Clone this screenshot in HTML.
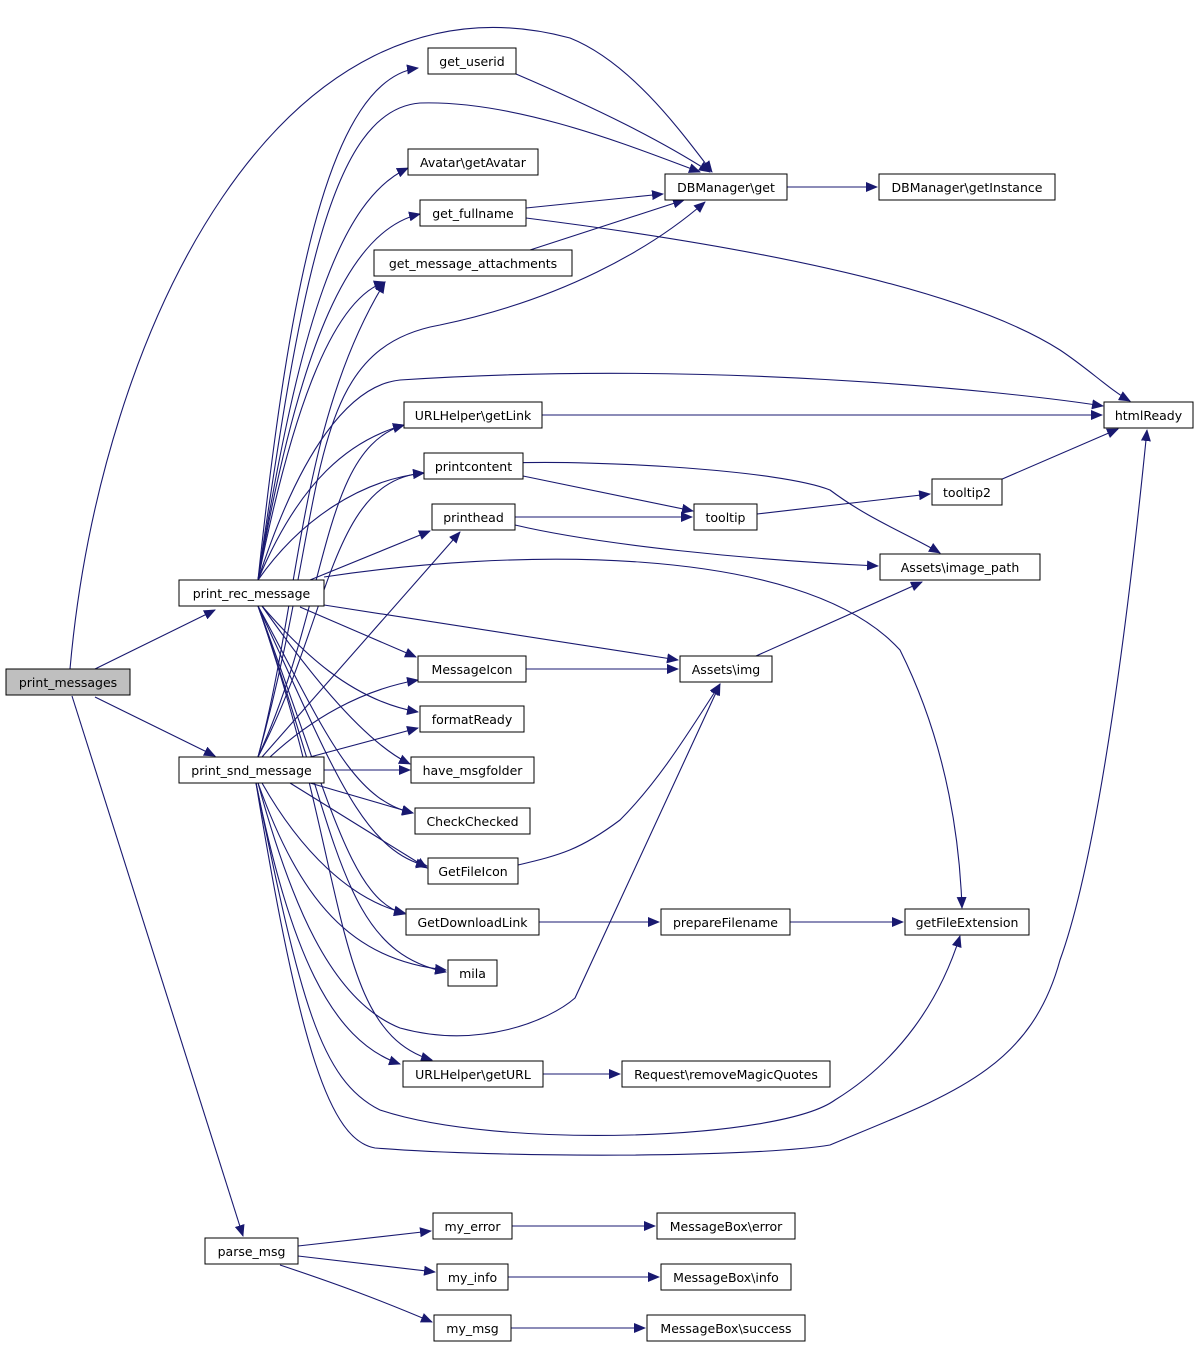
<!DOCTYPE html>
<html><head><meta charset="utf-8"><style>
body{margin:0;background:#fff}
svg text{font-family:"DejaVu Sans","Liberation Sans",sans-serif;font-size:12.5px;fill:#000;text-anchor:middle}
.n{fill:#fff;stroke:#000;stroke-width:1}
.e{fill:none;stroke:#191970;stroke-width:1.1}
</style></head><body>
<svg width="1200" height="1347" viewBox="0 0 1200 1347" xmlns="http://www.w3.org/2000/svg">
<defs><marker id="a" markerWidth="12" markerHeight="10" refX="11" refY="5" orient="auto" markerUnits="userSpaceOnUse"><path d="M0,0 L12,5 L0,10 z" fill="#191970"/></marker></defs>
<g class="e" marker-end="url(#a)">
<!-- print_messages -->
<path d="M95,669 L215,610"/>
<path d="M95,697 L215,756"/>
<path d="M72,696 L243,1236"/>
<path d="M70,669 C100,330 280,-40 570,38 C630,62 680,130 712,172"/>
<!-- print_rec_message -->
<path d="M258,580 C290,280 330,80 418,68"/>
<path d="M258,580 C300,290 330,110 420,103 C520,100 640,150 700,172"/>
<path d="M258,580 C300,320 340,200 408,168"/>
<path d="M258,580 C300,340 350,230 420,214"/>
<path d="M258,580 C290,420 330,300 385,282"/>
<path d="M258,580 C300,450 350,385 400,380 C700,360 1000,390 1103,406"/>
<path d="M258,580 C300,480 350,440 404,425"/>
<path d="M258,580 C300,520 360,480 424,473"/>
<path d="M310,580 L430,531"/>
<path d="M324,577 C500,550 800,540 900,650 C950,750 960,850 962,908"/>
<path d="M324,605 L678,660"/>
<path d="M300,607 L416,657"/>
<path d="M262,606 C300,650 350,700 418,712"/>
<path d="M262,606 C300,660 360,740 410,764"/>
<path d="M258,606 C320,720 350,800 413,813"/>
<path d="M258,606 C330,760 360,850 427,866"/>
<path d="M258,606 C330,800 350,900 405,914"/>
<path d="M258,606 C340,840 340,950 446,972"/>
<path d="M258,606 C350,870 330,1030 432,1060"/>
<!-- print_snd_message -->
<path d="M258,757 C300,600 300,420 385,282"/>
<path d="M258,757 C330,500 300,350 440,325 C560,300 650,250 705,202"/>
<path d="M258,757 C330,600 320,450 404,425"/>
<path d="M258,757 C330,620 330,480 424,473"/>
<path d="M262,757 L460,532"/>
<path d="M270,757 C310,720 360,690 418,680"/>
<path d="M310,757 L418,728"/>
<path d="M324,770 L410,770"/>
<path d="M310,783 L413,813"/>
<path d="M290,783 L427,868"/>
<path d="M262,783 C300,850 350,900 405,913"/>
<path d="M258,783 C300,900 350,960 446,970"/>
<path d="M258,783 C290,900 330,1000 400,1028 C480,1050 550,1020 575,998 L720,684"/>
<path d="M256,783 C290,950 330,1040 400,1064"/>
<path d="M256,783 C300,1000 320,1080 380,1110 C500,1150 780,1140 835,1100 C900,1060 940,1000 960,936"/>
<path d="M256,783 C300,1050 330,1140 375,1148 C500,1158 750,1158 830,1145 C950,1095 1030,1070 1060,960 C1100,850 1130,600 1147,430"/>
<!-- second tier -->
<path d="M516,74 C600,110 660,140 710,172"/>
<path d="M526,208 L663,194"/>
<path d="M530,250 L684,200"/>
<path d="M526,218 C700,240 950,280 1060,350 C1090,370 1110,390 1130,401"/>
<path d="M787,187 L877,187"/>
<path d="M542,415 L1102,415"/>
<path d="M523,476 L693,511"/>
<path d="M510,463 C600,460 780,470 830,490 C870,520 910,535 940,553"/>
<path d="M515,517 L692,517"/>
<path d="M515,525 C600,545 750,560 878,566"/>
<path d="M757,514 L930,494"/>
<path d="M1000,480 L1118,429"/>
<path d="M526,669 L678,669"/>
<path d="M756,656 L922,582"/>
<path d="M518,865 C560,855 580,850 620,820 C660,780 690,730 720,684"/>
<path d="M539,922 L659,922"/>
<path d="M790,922 L903,922"/>
<path d="M543,1074 L620,1074"/>
<path d="M298,1246 L431,1231"/>
<path d="M298,1256 L435,1272"/>
<path d="M280,1265 C340,1285 380,1300 432,1322"/>
<path d="M512,1226 L655,1226"/>
<path d="M508,1277 L659,1277"/>
<path d="M511,1328 L645,1328"/>
</g>
<g>
<rect x="6" y="669" width="124" height="26" fill="#bfbfbf" stroke="#000"/><text x="68" y="687">print_messages</text>
<rect class="n" x="179" y="580" width="145" height="26"/><text x="251.5" y="598">print_rec_message</text>
<rect class="n" x="179" y="757" width="145" height="26"/><text x="251.5" y="775">print_snd_message</text>
<rect class="n" x="205" y="1238" width="93" height="26"/><text x="251.5" y="1256">parse_msg</text>
<rect class="n" x="428" y="48" width="88" height="26"/><text x="472" y="66">get_userid</text>
<rect class="n" x="408" y="149" width="130" height="26"/><text x="473" y="167">Avatar\getAvatar</text>
<rect class="n" x="420" y="200" width="106" height="26"/><text x="473" y="218">get_fullname</text>
<rect class="n" x="374" y="250" width="198" height="26"/><text x="473" y="268">get_message_attachments</text>
<rect class="n" x="404" y="402" width="138" height="26"/><text x="473" y="420">URLHelper\getLink</text>
<rect class="n" x="424" y="453" width="99" height="26"/><text x="473.5" y="471">printcontent</text>
<rect class="n" x="432" y="504" width="83" height="26"/><text x="473.5" y="522">printhead</text>
<rect class="n" x="418" y="656" width="108" height="26"/><text x="472" y="674">MessageIcon</text>
<rect class="n" x="420" y="706" width="104" height="26"/><text x="472" y="724">formatReady</text>
<rect class="n" x="411" y="757" width="123" height="26"/><text x="472.5" y="775">have_msgfolder</text>
<rect class="n" x="415" y="808" width="115" height="26"/><text x="472.5" y="826">CheckChecked</text>
<rect class="n" x="428" y="858" width="90" height="26"/><text x="473" y="876">GetFileIcon</text>
<rect class="n" x="406" y="909" width="133" height="26"/><text x="472.5" y="927">GetDownloadLink</text>
<rect class="n" x="448" y="960" width="49" height="26"/><text x="472.5" y="978">mila</text>
<rect class="n" x="403" y="1061" width="140" height="26"/><text x="473" y="1079">URLHelper\getURL</text>
<rect class="n" x="433" y="1213" width="79" height="26"/><text x="472.5" y="1231">my_error</text>
<rect class="n" x="437" y="1264" width="71" height="26"/><text x="472.5" y="1282">my_info</text>
<rect class="n" x="434" y="1315" width="77" height="26"/><text x="472.5" y="1333">my_msg</text>
<rect class="n" x="665" y="174" width="122" height="26"/><text x="726" y="192">DBManager\get</text>
<rect class="n" x="879" y="174" width="176" height="26"/><text x="967" y="192">DBManager\getInstance</text>
<rect class="n" x="1104" y="402" width="89" height="26"/><text x="1148.5" y="420">htmlReady</text>
<rect class="n" x="932" y="479" width="70" height="26"/><text x="967" y="497">tooltip2</text>
<rect class="n" x="694" y="504" width="63" height="26"/><text x="725.5" y="522">tooltip</text>
<rect class="n" x="880" y="554" width="160" height="26"/><text x="960" y="572">Assets\image_path</text>
<rect class="n" x="680" y="656" width="92" height="26"/><text x="726" y="674">Assets\img</text>
<rect class="n" x="661" y="909" width="129" height="26"/><text x="725.5" y="927">prepareFilename</text>
<rect class="n" x="905" y="909" width="124" height="26"/><text x="967" y="927">getFileExtension</text>
<rect class="n" x="622" y="1061" width="208" height="26"/><text x="726" y="1079">Request\removeMagicQuotes</text>
<rect class="n" x="657" y="1213" width="138" height="26"/><text x="726" y="1231">MessageBox\error</text>
<rect class="n" x="661" y="1264" width="130" height="26"/><text x="726" y="1282">MessageBox\info</text>
<rect class="n" x="647" y="1315" width="158" height="26"/><text x="726" y="1333">MessageBox\success</text>
</g>
</svg>
</body></html>
